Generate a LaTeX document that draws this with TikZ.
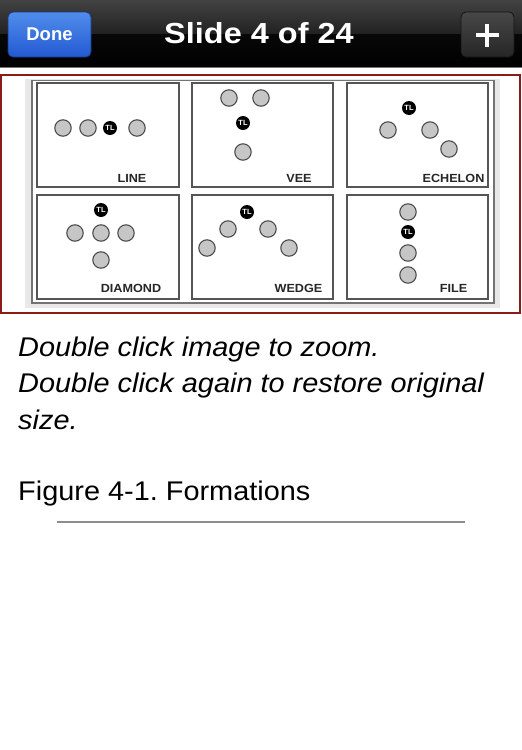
\documentclass[tikz,border=0pt]{standalone}
\usepackage{fontspec}
\setmainfont{Liberation Sans}
\newfontfamily\helw[FakeStretch=1.07]{Liberation Sans}
\newfontfamily\helt[FakeStretch=1.12]{Liberation Sans}
\definecolor{frame}{HTML}{8B1A1A}
\definecolor{pan}{HTML}{555555}
\definecolor{cfill}{HTML}{C6C6C6}
\definecolor{figbg}{HTML}{E8E8E8}
\frenchspacing
\begin{document}
\begin{tikzpicture}[x=1pt,y=-1pt,
  panel/.style={draw=pan,line width=1.3pt,fill=white},
  pc/.style={circle,draw=pan!90!black,line width=1.1pt,fill=cfill,minimum size=16.4pt,inner sep=0pt},
  tl/.style={circle,fill=black,minimum size=14pt,inner sep=0pt,text=white,font=\fontsize{7.5}{7.5}\selectfont\bfseries},
  lab/.style={font=\helw\fontsize{11.8}{12}\selectfont\bfseries,text=black!85,inner sep=0pt},
  body/.style={font=\helw\fontsize{27}{30}\selectfont,anchor=base west,inner sep=0pt}]
\useasboundingbox (0,0) rectangle (522,750);
\fill[white] (0,0) rectangle (522,750);
% top bar
\shade[top color=black!74,bottom color=black!87] (0,0) rectangle (522,34);
\shade[top color=black!97,bottom color=black] (0,34) rectangle (522,67);
\draw[black!55,line width=1pt] (0,67) -- (522,67);
% Done button
\shade[rounded corners=5pt,top color={rgb,255:red,80;green,140;blue,235},bottom color={rgb,255:red,35;green,90;blue,210},draw={rgb,255:red,25;green,55;blue,130},line width=0.8pt] (8,12) rectangle (91,57);
\node[text=white,font=\fontsize{18.5}{19}\selectfont\bfseries,inner sep=0pt,anchor=base] (done) at (49.5,40) {Done};
% title
\node[text=white,font=\helt\fontsize{29}{30}\selectfont\bfseries,inner sep=0pt,anchor=base] (title) at (259,43.3) {Slide 4 of 24};
% plus button
\shade[rounded corners=5pt,top color=black!72,bottom color=black!85,draw=black!92,line width=0.8pt] (461,12) rectangle (514,57);
\node[inner sep=0pt] (plus) at (487,35) {};
\fill[white] (475.5,32.7) rectangle (498.5,37.3);
\fill[white] (484.7,23.5) rectangle (489.3,46.5);
% red frame
\draw[frame,line width=1.5pt] (1,75) rectangle (520,313);
% figure background
\fill[figbg] (25,79) rectangle (500,308);
\draw[black!55,line width=1.6pt,fill=white] (32,80.5) rectangle (494,303);
% panels
\draw[panel] (37,83) rectangle (179,187);
\draw[panel] (192,83) rectangle (333,187);
\draw[panel] (347,83) rectangle (488,187);
\draw[panel] (37,195) rectangle (179,299);
\draw[panel] (192,195) rectangle (333,299);
\draw[panel] (347,195) rectangle (488,299);
% LINE
\node[pc] (l1) at (63,128) {};
\node[pc] (l2) at (88,128) {};
\node[tl] (l3) at (110,128) {TL};
\node[pc] (l4) at (137,128) {};
\node[lab] (linelab) at (132,178) {LINE};
% VEE
\node[pc] (v1) at (229,98) {};
\node[pc] (v2) at (261,98) {};
\node[tl] (v3) at (243,123) {TL};
\node[pc] (v4) at (243,152) {};
\node[lab] (veelab) at (299,178) {VEE};
% ECHELON
\node[tl] (e1) at (409,108) {TL};
\node[pc] (e2) at (388,130) {};
\node[pc] (e3) at (430,130) {};
\node[pc] (e4) at (449,149) {};
\node[lab] (echlab) at (453.5,178) {ECHELON};
% DIAMOND
\node[tl] (d1) at (101,210) {TL};
\node[pc] (d2) at (75,233) {};
\node[pc] (d3) at (101,233) {};
\node[pc] (d4) at (126,233) {};
\node[pc] (d5) at (101,260) {};
\node[lab] (dialab) at (131,288) {DIAMOND};
% WEDGE
\node[tl] (w1) at (247,212) {TL};
\node[pc] (w2) at (228,229) {};
\node[pc] (w3) at (207,248) {};
\node[pc] (w4) at (268,229) {};
\node[pc] (w5) at (289,248) {};
\node[lab] (wedlab) at (298.5,288) {WEDGE};
% FILE
\node[pc] (f1) at (408,212) {};
\node[tl] (f2) at (408,232) {TL};
\node[pc] (f3) at (408,253) {};
\node[pc] (f4) at (408,275) {};
\node[lab] (filelab) at (453.5,288) {FILE};
% text
\node[body,font=\helw\fontsize{27}{30}\selectfont\itshape] (t1) at (18,356) {Double click image to zoom.};
\node[body,font=\helw\fontsize{27}{30}\selectfont\itshape] (t2) at (18,392.5) {Double click again to restore original};
\node[body,font=\helw\fontsize{27}{30}\selectfont\itshape] (t3) at (18,429) {size.};
\node[body] (cap) at (18,500) {Figure 4-1. Formations};
\draw[black!45,line width=1.2pt] (57,522) -- (465,522);
\end{tikzpicture}
\end{document}
